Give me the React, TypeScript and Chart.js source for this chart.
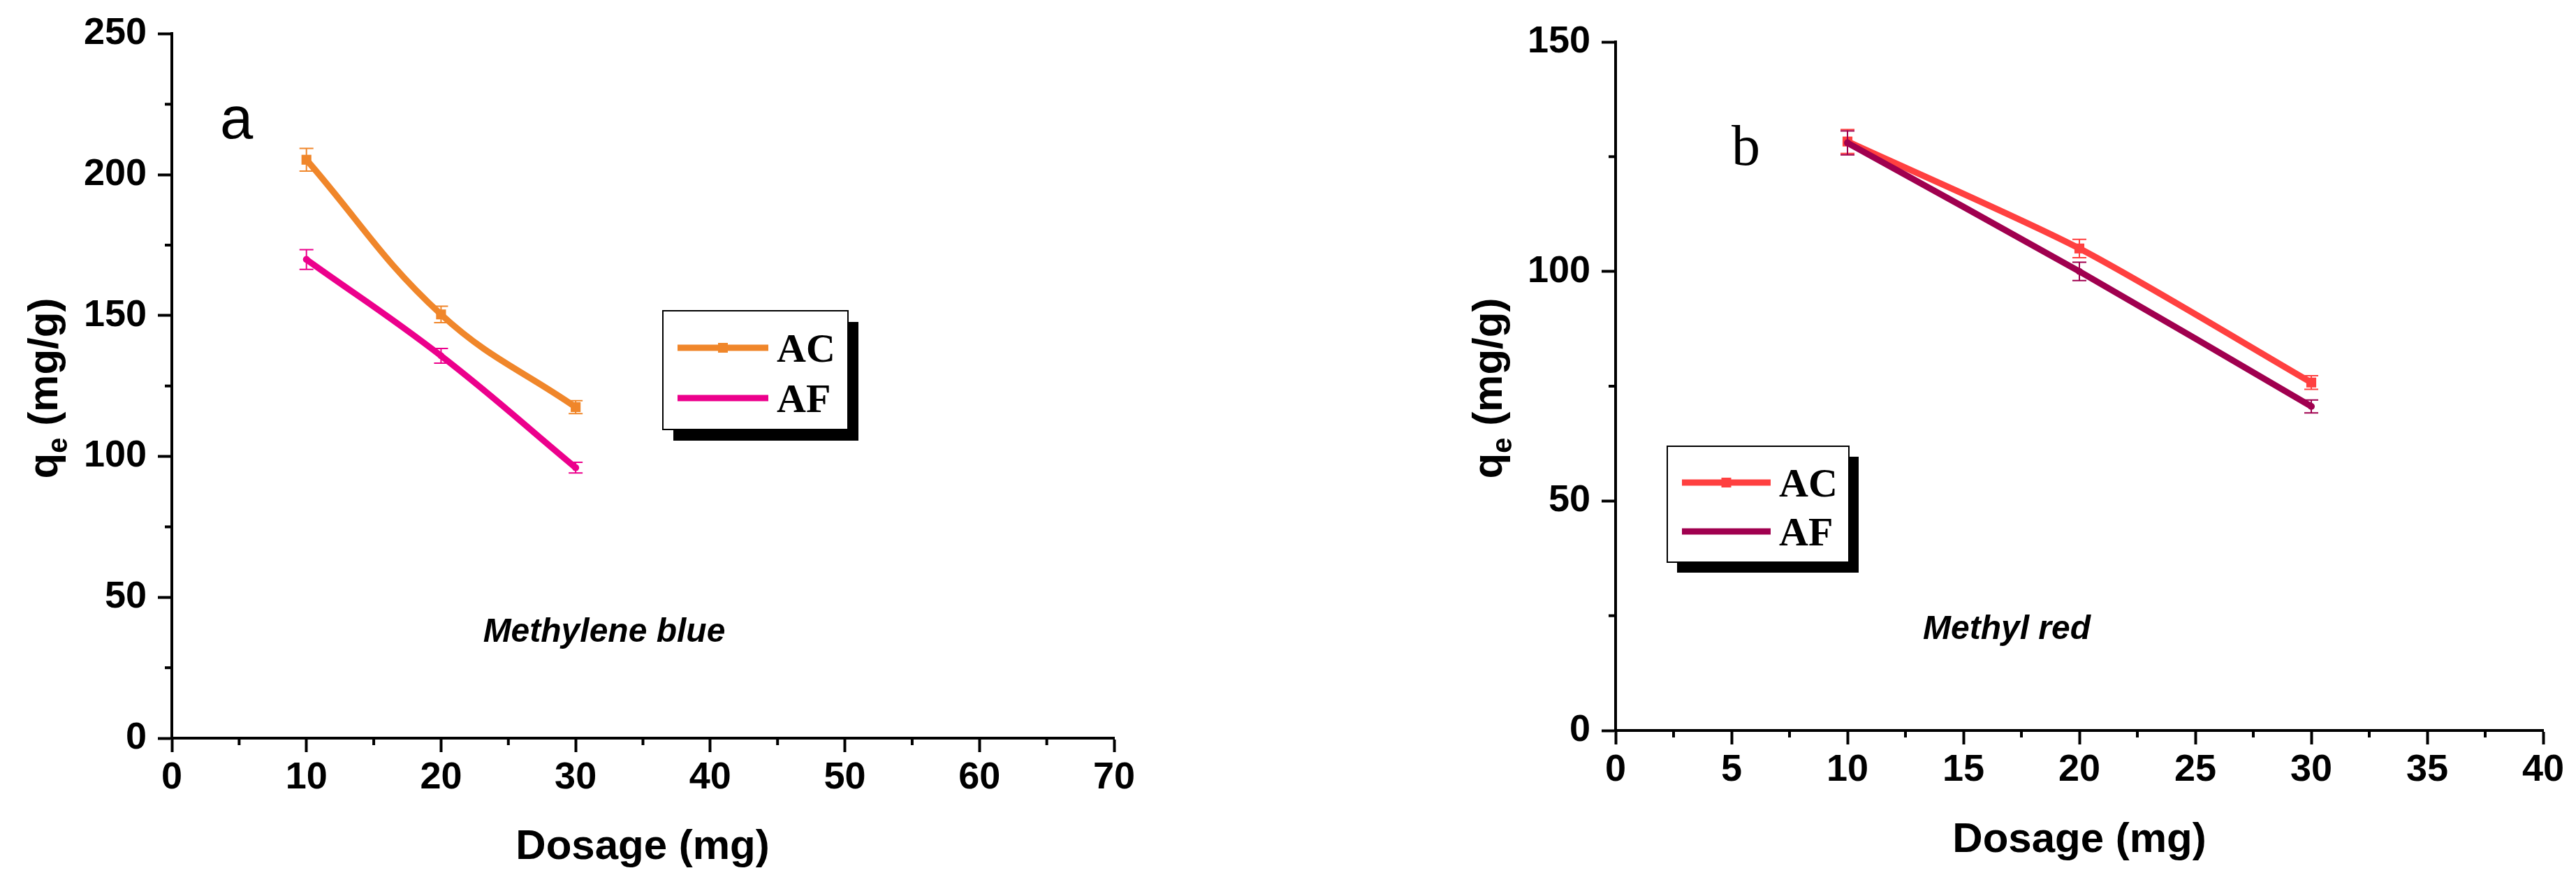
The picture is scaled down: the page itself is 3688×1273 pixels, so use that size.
import React, { useEffect, useRef } from 'react';
import { Chart, registerables } from 'chart.js';

Chart.register(...registerables);

// ---------- data ----------
const dosage = [10, 20, 30];
const seriesNames = ['AC', 'AF'];

const mbAC = [205.3, 150.4, 117.5];
const mbACErr = [4.0, 2.9, 2.3];
const mbAF = [169.9, 135.7, 96.0];
const mbAFErr = [3.5, 2.6, 1.9];

const mrAC = [128.3, 105.0, 75.8];
const mrACErr = [2.6, 2.0, 1.5];
const mrAF = [128.0, 100.0, 70.6];
const mrAFErr = [2.6, 2.0, 1.4];

const panelLetters = ['a', 'b'];
const dyeNames = ['Methylene blue', 'Methyl red'];
const xTitleText = 'Dosage (mg)';
const yTitleParts = ['q', 'e', ' (mg/g)'];

const SANS = '"Liberation Sans", Arial, sans-serif';
const SERIF = '"Liberation Serif", "Times New Roman", serif';

const W = 1844;
const H = 1273;

type Series = { label: string; values: number[]; err: number[]; color: string; pointStyle: string; radius: number; order: number };
type Panel = {
  left: number;
  area: { left: number; right: number; top: number; bottom: number };
  xMax: number; xStep: number; yMax: number; yStep: number;
  tension: number;
  series: Series[];
  letter: { text: string; font: string; x: number; y: number };
  dye: { text: string; x: number; y: number };
  legend: { x: number; y: number; w: number; h: number; dx: number; dy: number; lx0: number; lx1: number; rows: number[]; tx: number };
  yTitle: { x: number; y: number };
  xTitle: { x: number; y: number };
};

const panels: Panel[] = [
  {
    left: 0,
    area: { left: 246, right: 1595, top: 46, bottom: 1057 },
    xMax: 70, xStep: 10, yMax: 250, yStep: 50,
    tension: 0.4,
    series: [
      { label: seriesNames[0], values: mbAC, err: mbACErr, color: '#F0862A', pointStyle: 'rect', radius: 10, order: 1 },
      { label: seriesNames[1], values: mbAF, err: mbAFErr, color: '#EC008C', pointStyle: 'circle', radius: 5, order: 0 },
    ],
    letter: { text: panelLetters[0], font: `85px ${SANS}`, x: 315, y: 198 },
    dye: { text: dyeNames[0], x: 865, y: 919 },
    legend: { x: 949, y: 445, w: 265, h: 170, dx: 15, dy: 16, lx0: 970, lx1: 1100, rows: [498, 570], tx: 1112 },
    yTitle: { x: 66, y: 556 },
    xTitle: { x: 920, y: 1230 },
  },
  {
    left: 1844,
    area: { left: 469, right: 1797, top: 60, bottom: 1046 },
    xMax: 40, xStep: 5, yMax: 150, yStep: 50,
    tension: 0.25,
    series: [
      { label: seriesNames[0], values: mrAC, err: mrACErr, color: '#FF4040', pointStyle: 'rect', radius: 10, order: 1 },
      { label: seriesNames[1], values: mrAF, err: mrAFErr, color: '#A0004F', pointStyle: 'circle', radius: 5, order: 0 },
    ],
    letter: { text: panelLetters[1], font: `82px ${SERIF}`, x: 635, y: 236 },
    dye: { text: dyeNames[1], x: 1029, y: 915 },
    legend: { x: 543, y: 639, w: 260, h: 166, dx: 14, dy: 15, lx0: 564, lx1: 691, rows: [691, 761], tx: 703 },
    yTitle: { x: 290, y: 556 },
    xTitle: { x: 1133, y: 1220 },
  },
];

function makePlugin(p: Panel) {
  return {
    id: 'custom' + p.left,
    afterDatasetsDraw(chart: any) {
      const ctx = chart.ctx;
      const xs = chart.scales.x;
      const ys = chart.scales.y;
      ctx.save();
      const ordered = [...p.series].sort((a, b) => b.order - a.order);
      for (const s of ordered) {
        ctx.strokeStyle = s.color;
        ctx.lineWidth = 2;
        dosage.forEach((xv, i) => {
          const px = xs.getPixelForValue(xv);
          const top = ys.getPixelForValue(s.values[i] + s.err[i]);
          const bot = ys.getPixelForValue(s.values[i] - s.err[i]);
          ctx.beginPath();
          ctx.moveTo(px, top); ctx.lineTo(px, bot);
          ctx.moveTo(px - 10, top); ctx.lineTo(px + 10, top);
          ctx.moveTo(px - 10, bot); ctx.lineTo(px + 10, bot);
          ctx.stroke();
        });
      }
      ctx.restore();
    },
    afterDraw(chart: any) {
      const ctx = chart.ctx;
      const xs = chart.scales.x;
      const ys = chart.scales.y;
      const a = chart.chartArea;
      ctx.save();
      // minor ticks
      ctx.strokeStyle = '#000';
      ctx.lineWidth = 4;
      ctx.lineCap = 'butt';
      for (let v = p.yStep / 2; v < p.yMax; v += p.yStep) {
        const py = ys.getPixelForValue(v);
        ctx.beginPath(); ctx.moveTo(a.left, py); ctx.lineTo(a.left - 10, py); ctx.stroke();
      }
      for (let v = p.xStep / 2; v < p.xMax; v += p.xStep) {
        const px = xs.getPixelForValue(v);
        ctx.beginPath(); ctx.moveTo(px, a.bottom); ctx.lineTo(px, a.bottom + 10); ctx.stroke();
      }
      // axis titles
      ctx.fillStyle = '#000';
      ctx.font = `bold 60px ${SANS}`;
      ctx.textAlign = 'center';
      ctx.textBaseline = 'alphabetic';
      ctx.fillText(xTitleText, p.xTitle.x, p.xTitle.y);

      ctx.save();
      ctx.translate(p.yTitle.x, p.yTitle.y);
      ctx.rotate(-Math.PI / 2);
      const mainFont = `bold 60px ${SANS}`;
      const subFont = `bold 40px ${SANS}`;
      ctx.font = mainFont;
      const wq = ctx.measureText(yTitleParts[0]).width;
      const wr = ctx.measureText(yTitleParts[2]).width;
      ctx.font = subFont;
      const we = ctx.measureText(yTitleParts[1]).width;
      const total = wq + we + wr;
      let cx = -total / 2;
      ctx.textAlign = 'left';
      ctx.textBaseline = 'alphabetic';
      const base = 16;
      ctx.font = mainFont; ctx.fillText(yTitleParts[0], cx, base); cx += wq;
      ctx.font = subFont; ctx.fillText(yTitleParts[1], cx, base + 14); cx += we;
      ctx.font = mainFont; ctx.fillText(yTitleParts[2], cx, base);
      ctx.restore();

      // panel letter
      ctx.font = p.letter.font;
      ctx.textAlign = 'left';
      ctx.textBaseline = 'alphabetic';
      ctx.fillText(p.letter.text, p.letter.x, p.letter.y);

      // dye annotation
      ctx.font = `italic bold 48px ${SANS}`;
      ctx.textAlign = 'center';
      ctx.fillText(p.dye.text, p.dye.x, p.dye.y);

      // legend
      const L = p.legend;
      ctx.fillStyle = '#000';
      ctx.fillRect(L.x + L.dx, L.y + L.dy, L.w, L.h);
      ctx.fillStyle = '#fff';
      ctx.fillRect(L.x, L.y, L.w, L.h);
      ctx.strokeStyle = '#000';
      ctx.lineWidth = 2;
      ctx.strokeRect(L.x, L.y, L.w, L.h);
      p.series.forEach((s, i) => {
        const ry = L.rows[i];
        ctx.strokeStyle = s.color;
        ctx.lineWidth = 9;
        ctx.beginPath(); ctx.moveTo(L.lx0, ry); ctx.lineTo(L.lx1, ry); ctx.stroke();
        ctx.fillStyle = s.color;
        const mx = (L.lx0 + L.lx1) / 2;
        if (s.pointStyle === 'rect') {
          ctx.fillRect(mx - 7, ry - 7, 14, 14);
        }
        ctx.fillStyle = '#000';
        ctx.font = `bold 58px ${SERIF}`;
        ctx.textAlign = 'left';
        ctx.fillText(s.label, L.tx, ry + 20);
      });
      ctx.restore();
    },
  };
}

function PanelChart({ p }: { p: Panel }) {
  const ref = useRef<HTMLCanvasElement | null>(null);
  useEffect(() => {
    if (!ref.current) return;
    const tickFont = { family: SANS, weight: 'bold' as const, size: 54 };
    const chart = new Chart(ref.current, {
      type: 'line',
      data: {
        datasets: p.series.map((s) => ({
          label: s.label,
          data: dosage.map((x, i) => ({ x, y: s.values[i] })),
          borderColor: s.color,
          backgroundColor: s.color,
          pointBackgroundColor: s.color,
          pointBorderColor: s.color,
          pointBorderWidth: 0,
          pointStyle: s.pointStyle as any,
          pointRadius: s.radius,
          borderWidth: 9,
          tension: p.tension,
          fill: false,
          order: s.order,
          clip: false as any,
        })),
      },
      options: {
        animation: false,
        responsive: false,
        devicePixelRatio: 1,
        layout: { padding: { left: 0, top: p.area.top, right: W - p.area.right, bottom: 0 } },
        plugins: { legend: { display: false }, tooltip: { enabled: false } },
        scales: {
          x: {
            type: 'linear',
            min: 0,
            max: p.xMax,
            afterFit: (scale: any) => { scale.height = H - p.area.bottom; },
            ticks: { stepSize: p.xStep, color: '#000', font: tickFont, padding: 5, maxRotation: 0, autoSkip: false },
            grid: { drawOnChartArea: false, drawTicks: true, tickLength: 20, tickWidth: 4, tickColor: '#000' },
            border: { display: true, color: '#000', width: 4 },
          },
          y: {
            type: 'linear',
            min: 0,
            max: p.yMax,
            afterFit: (scale: any) => { scale.width = p.area.left; },
            ticks: { stepSize: p.yStep, color: '#000', font: tickFont, padding: 16 },
            grid: { drawOnChartArea: false, drawTicks: true, tickLength: 20, tickWidth: 4, tickColor: '#000' },
            border: { display: true, color: '#000', width: 4 },
          },
        },
      },
      plugins: [makePlugin(p)],
    } as any);
    return () => chart.destroy();
  }, [p]);
  return (
    <canvas
      ref={ref}
      width={W}
      height={H}
      style={{ position: 'absolute', left: p.left, top: 0, width: W, height: H }}
    />
  );
}

export default function App() {
  return (
    <div style={{ position: 'absolute', left: 0, top: 0, width: 3688, height: 1273, background: '#fff', overflow: 'hidden' }}>
      {panels.map((p) => (
        <PanelChart key={p.left} p={p} />
      ))}
    </div>
  );
}
